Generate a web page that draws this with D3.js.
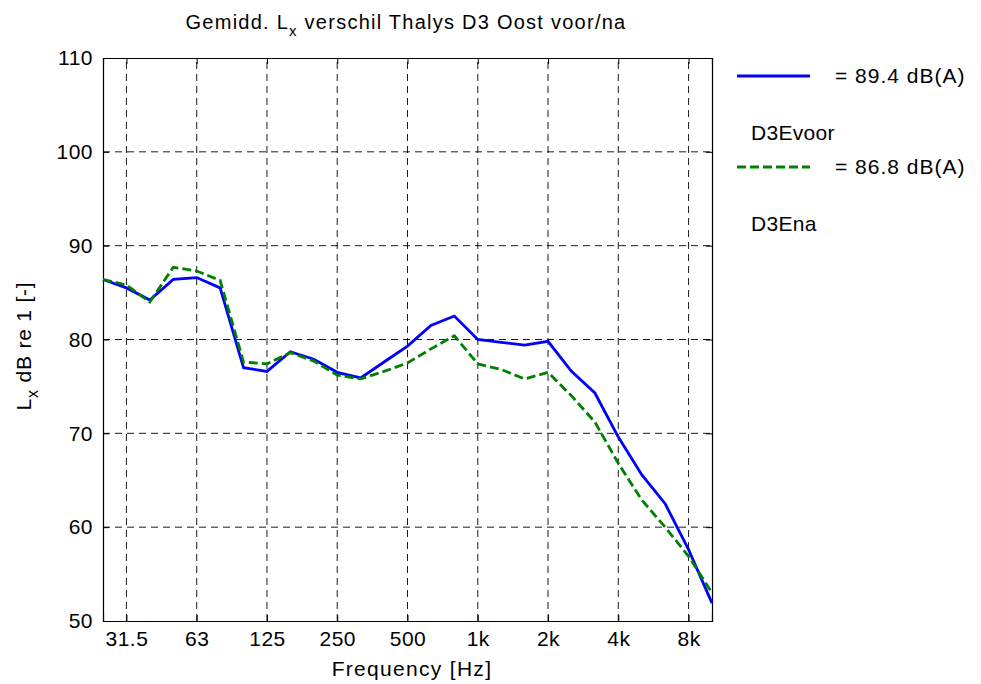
<!DOCTYPE html>
<html>
<head>
<meta charset="utf-8">
<script src="https://cdn.jsdelivr.net/npm/d3@7"></script>
<style>
  html, body { margin: 0; padding: 0; background: #fff; }
  svg { display: block; }
  text { font-family: "Liberation Sans", Arial, sans-serif; fill: #000; }
</style>
</head>
<body>
<svg id="chart" width="981" height="684"></svg>
<script>
// ---- data ----
const bands = ["25","31.5","40","50","63","80","100","125","160","200","250","315","400","500","630","800","1k","1.25k","1.6k","2k","2.5k","3.15k","4k","5k","6.3k","8k","10k"];
const tickBands = ["31.5","63","125","250","500","1k","2k","4k","8k"];
const yTicks = [50, 60, 70, 80, 90, 100, 110];
const voor = [86.4, 85.5, 84.2, 86.4, 86.6, 85.5, 77.0, 76.6, 78.7, 77.9, 76.5, 75.9, 77.6, 79.3, 81.5, 82.5, 80.0, 79.7, 79.4, 79.8, 76.6, 74.3, 69.6, 65.6, 62.5, 57.6, 51.9];
const na   = [86.4, 85.8, 84.0, 87.7, 87.3, 86.3, 77.6, 77.4, 78.6, 77.7, 76.2, 75.8, 76.6, 77.5, 79.0, 80.4, 77.4, 76.8, 75.8, 76.5, 74.0, 71.2, 66.8, 62.9, 60.0, 56.9, 53.0];
const seriesNames = ["D3Evoor", "D3Ena"];
const seriesTotals = ["= 89.4 dB(A)", "= 86.8 dB(A)"];

// ---- layout ----
const L = 103, R = 712, T = 58, B = 621;
const svg = d3.select("#chart");
const x = d3.scalePoint().domain(bands).range([L, R]).padding(0);
const y = d3.scaleLinear().domain([50, 110]).range([B, T]);

// grid
const grid = svg.append("g").attr("stroke", "#000").attr("stroke-width", 0.9).attr("stroke-dasharray", "7,5");
grid.selectAll("line.v").data(tickBands).join("line")
  .attr("x1", d => x(d)).attr("x2", d => x(d)).attr("y1", B).attr("y2", T);
grid.selectAll("line.h").data(yTicks.slice(1, -1)).join("line")
  .attr("y1", d => y(d)).attr("y2", d => y(d)).attr("x1", L).attr("x2", R);

// axes
const fs = 21;
const axB = svg.append("g").attr("transform", `translate(0,${B})`)
  .call(d3.axisBottom(x).tickValues(tickBands).tickSize(-6).tickPadding(10));
const axT = svg.append("g").attr("transform", `translate(0,${T})`)
  .call(d3.axisTop(x).tickValues(tickBands).tickSize(-6).tickFormat(""));
const axL = svg.append("g").attr("transform", `translate(${L},0)`)
  .call(d3.axisLeft(y).tickValues(yTicks).tickSize(-6).tickPadding(10));
const axR = svg.append("g").attr("transform", `translate(${R},0)`)
  .call(d3.axisRight(y).tickValues(yTicks).tickSize(-6).tickFormat(""));
[axB, axT, axL, axR].forEach(g => {
  g.select(".domain").attr("stroke", "#000").attr("stroke-width", 1.2);
  g.selectAll(".tick line").attr("stroke", "#000");
  g.selectAll("text").attr("font-size", fs).attr("letter-spacing", 0.5)
    .attr("font-family", "Liberation Sans, Arial, sans-serif").attr("fill", "#000");
});

// lines
const line = d3.line().x((d, i) => x(bands[i])).y(d => y(d));
svg.append("path").datum(voor).attr("d", line)
  .attr("fill", "none").attr("stroke", "#0000ff").attr("stroke-width", 2.8).attr("stroke-linejoin", "miter");
svg.append("path").datum(na).attr("d", line)
  .attr("fill", "none").attr("stroke", "#008000").attr("stroke-width", 2.8).attr("stroke-dasharray", "9,4");

// title
const title = svg.append("text").attr("x", 406).attr("y", 29).attr("text-anchor", "middle")
  .attr("font-size", 20).attr("letter-spacing", 1.25);
title.append("tspan").text("Gemidd. L");
title.append("tspan").attr("dy", 7).attr("font-size", 15).text("x");
title.append("tspan").attr("dy", -7).text(" verschil Thalys D3 Oost voor/na");

// x label
svg.append("text").attr("x", 412).attr("y", 676).attr("text-anchor", "middle")
  .attr("font-size", fs).attr("letter-spacing", 1.3).text("Frequency [Hz]");

// y label
const yl = svg.append("text").attr("transform", "translate(31,346) rotate(-90)").attr("text-anchor", "middle")
  .attr("font-size", fs).attr("letter-spacing", 0.8);
yl.append("tspan").text("L");
yl.append("tspan").attr("dy", 7).attr("font-size", 16).text("x");
yl.append("tspan").attr("dy", -7).text(" dB re 1 [-]");

// legend
const legY = [76, 167];
const legColors = ["#0000ff", "#008000"];
const legDash = [null, "9,4"];
const leg = svg.append("g");
seriesNames.forEach((name, i) => {
  leg.append("line").attr("x1", 737).attr("x2", 810).attr("y1", legY[i]).attr("y2", legY[i])
    .attr("stroke", legColors[i]).attr("stroke-width", 2.8).attr("stroke-dasharray", legDash[i]);
  leg.append("text").attr("x", 835).attr("y", legY[i] + 7).attr("font-size", fs).attr("letter-spacing", 1)
    .text(seriesTotals[i]);
  leg.append("text").attr("x", 751).attr("y", legY[i] + 64).attr("font-size", fs).attr("letter-spacing", 0.3)
    .text(name);
});
</script>
</body>
</html>
